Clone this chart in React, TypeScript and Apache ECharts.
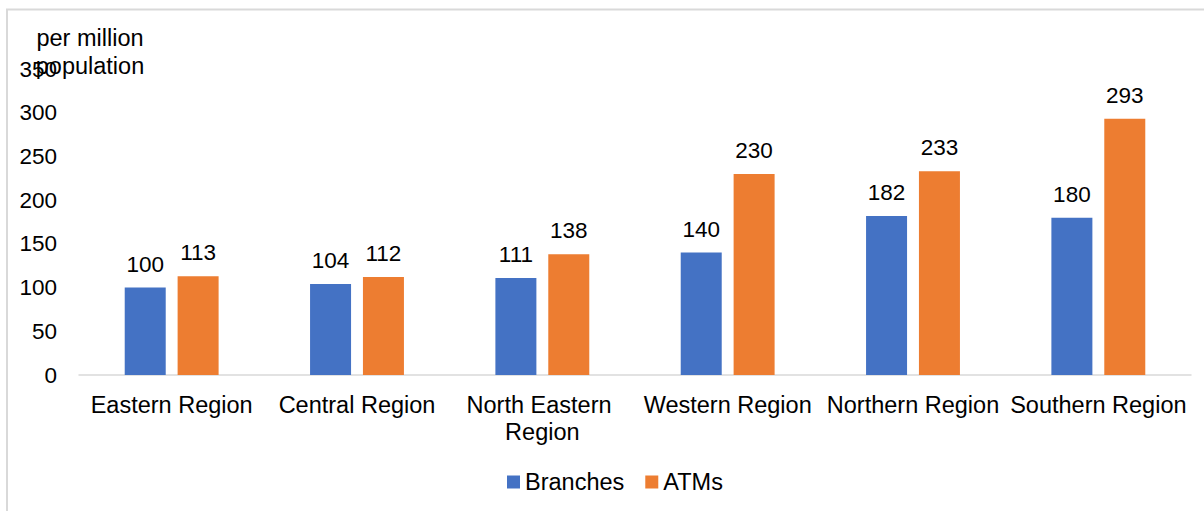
import React, { useEffect, useRef } from "react";
import * as echarts from "echarts";

const categories = ["Eastern Region", "Central Region", "North Eastern Region", "Western Region", "Northern Region", "Southern Region"];
const branches = [100, 104, 111, 140, 182, 180];
const atms = [113, 112, 138, 230, 233, 293];
const seriesNames = ["Branches", "ATMs"];
const axisTitle = "per million\npopulation";

const FONT = "'Liberation Sans', Arial, sans-serif";

export default function App() {
  const ref = useRef<HTMLDivElement>(null);
  useEffect(() => {
    if (!ref.current) return;
    const chart = echarts.init(ref.current, null, { renderer: "svg" });
    const label = {
      show: true,
      position: "top",
      distance: 12,
      color: "#000",
      fontSize: 22.5,
      fontFamily: FONT,
    };
    chart.setOption({
      animation: false,
      textStyle: { fontFamily: FONT },
      grid: { left: 79, right: 13, top: 69, bottom: 136, containLabel: false },
      legend: {
        left: 507,
        top: 470,
        padding: 0,
        itemWidth: 13,
        itemHeight: 13,
        itemGap: 21,
        icon: "rect",
        textStyle: { fontSize: 23.5, color: "#000", fontFamily: FONT },
        data: seriesNames,
      },
      graphic: [
        {
          type: "rect",
          shape: { x: 7, y: 9.5, width: 1400, height: 800 },
          style: { fill: "none", stroke: "#d9d9d9", lineWidth: 2 },
          silent: true,
        },
        {
          type: "text",
          x: 90,
          y: 24,
          style: {
            text: axisTitle,
            textAlign: "center",
            fontSize: 23.5,
            lineHeight: 28,
            fill: "#000",
            fontFamily: FONT,
          },
        },
      ],
      xAxis: {
        type: "category",
        data: categories,
        axisLine: { lineStyle: { color: "#d9d9d9", width: 1.5 } },
        axisTick: { show: false },
        axisLabel: {
          color: "#000",
          fontSize: 23.5,
          fontFamily: FONT,
          margin: 16,
          width: 182,
          overflow: "break",
          lineHeight: 27,
          interval: 0,
        },
      },
      yAxis: {
        type: "value",
        min: 0,
        max: 350,
        interval: 50,
        axisLine: { show: false },
        axisTick: { show: false },
        splitLine: { show: false },
        axisLabel: { color: "#000", fontSize: 22.5, fontFamily: FONT, margin: 22 },
      },
      series: [
        {
          name: seriesNames[0],
          type: "bar",
          data: branches,
          barWidth: 41,
          barGap: "29%",
          itemStyle: { color: "#4472C4" },
          label,
        },
        {
          name: seriesNames[1],
          type: "bar",
          data: atms,
          barWidth: 41,
          itemStyle: { color: "#ED7D31" },
          label,
        },
      ],
    });
    return () => chart.dispose();
  }, []);
  return (
    <div
      ref={ref}
      style={{ position: "absolute", left: 0, top: 0, width: 1204, height: 511, background: "#fff" }}
    />
  );
}
